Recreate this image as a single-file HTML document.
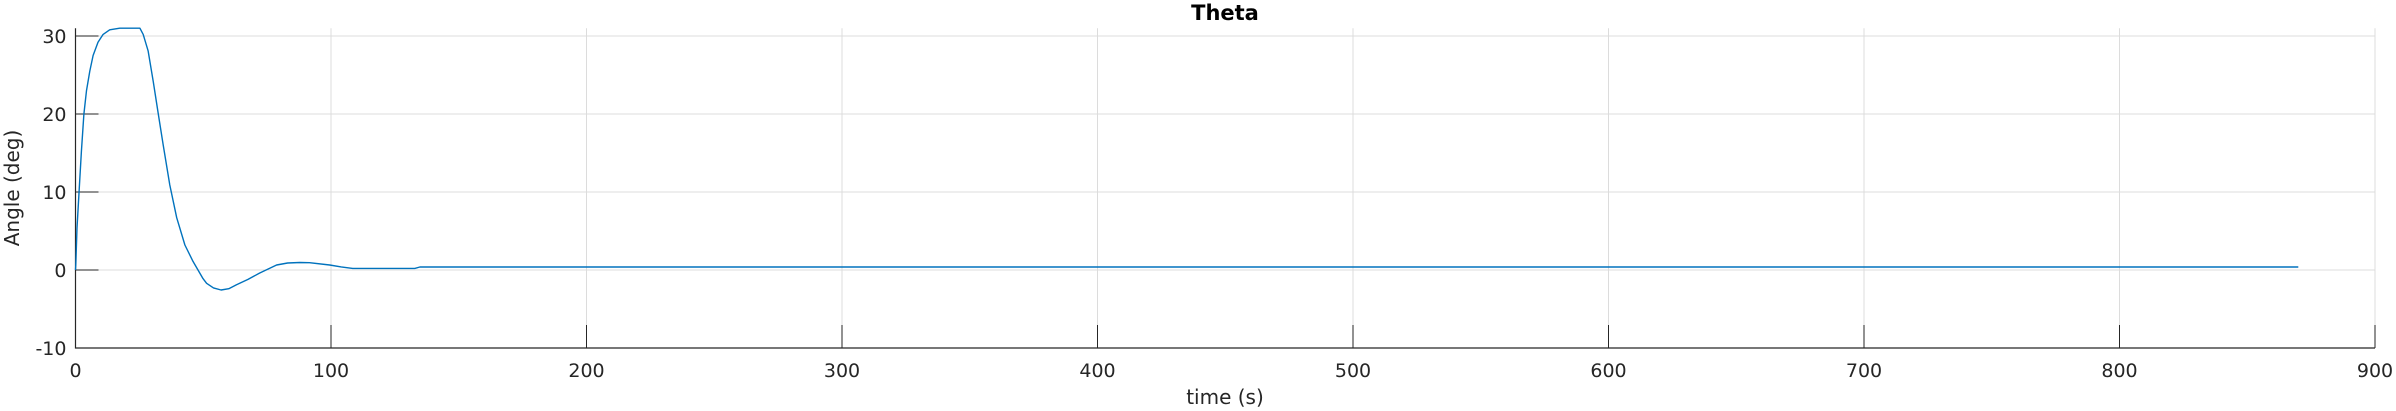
<!DOCTYPE html>
<html><head><meta charset="utf-8"><style>
html,body{margin:0;padding:0;background:#fff;width:2396px;height:411px;overflow:hidden}
svg text{font-family:"DejaVu Sans","Liberation Sans",sans-serif;fill:#262626}
</style></head><body>
<svg id="chart" width="2396" height="411" viewBox="0 0 2396 411" xmlns="http://www.w3.org/2000/svg">
<g id="grid"></g><g id="axes"></g><g id="series"></g>
<text x="1225" y="20" text-anchor="middle" font-size="21" font-weight="bold" style="fill:#000">Theta</text>
<text x="1225" y="404" text-anchor="middle" font-size="20">time (s)</text>
<text transform="translate(19,188) rotate(-90)" text-anchor="middle" font-size="20">Angle (deg)</text>
</svg>
<script>
const xTicks=[0,100,200,300,400,500,600,700,800,900];
const yTicks=[-10,0,10,20,30];
const times=[0,0.1,0.6,1.4,2.3,3.3,4.3,5.6,6.9,8.8,10.8,13.4,17.3,25.2,26.5,28.4,30.4,32.4,34.3,36.9,39.6,42.8,46,49.9,51.3,54,57,60,63,67.5,72,78.7,83,87.8,91.6,99.5,104,108.5,132.8,134.8,870];
const theta=[0,0.64,5.4,10.1,15.2,20,23,25.5,27.5,29.2,30.2,30.8,31,31,30.2,28.1,24.2,20,16.1,10.9,6.7,3.2,1.1,-1.1,-1.7,-2.3,-2.56,-2.4,-1.9,-1.2,-0.4,0.64,0.9,0.96,0.93,0.64,0.4,0.21,0.21,0.38,0.38];
const X0=75.5,X1=2375,Y0=348,Y1=28.2,XMIN=0,XMAX=900,YMIN=-10,YMAX=31;
const sx=v=>X0+(v-XMIN)/(XMAX-XMIN)*(X1-X0);
const sy=v=>Y0-(v-YMIN)/(YMAX-YMIN)*(Y0-Y1);
const NS='http://www.w3.org/2000/svg';
const mk=(t,a,p)=>{const e=document.createElementNS(NS,t);for(const k in a)e.setAttribute(k,a[k]);p.appendChild(e);return e;};
const grid=document.getElementById('grid'),axes=document.getElementById('axes'),ser=document.getElementById('series');
xTicks.forEach(v=>{
 if(v>0){const g=mk('line',{x1:sx(v),x2:sx(v),y1:Y1,y2:Y0,stroke:'#dcdcdc','stroke-width':1},grid);
 
 }
 const t=mk('line',{x1:sx(v),x2:sx(v),y1:Y0,y2:Y0-23,stroke:'#262626','stroke-width':1},axes);
 
 
 const l=mk('text',{x:sx(v),y:377,'text-anchor':'middle','font-size':19},axes);l.textContent=v;
 
 
});
yTicks.forEach(v=>{
 if(v>YMIN){const g=mk('line',{x1:X0,x2:X1,y1:sy(v),y2:sy(v),stroke:'#dcdcdc','stroke-width':1},grid);
 
 }
 const t=mk('line',{x1:X0,x2:X0+23,y1:sy(v),y2:sy(v),stroke:'#262626','stroke-width':1},axes);
 
 
 const l=mk('text',{x:X0-9,y:sy(v)+7,'text-anchor':'end','font-size':19},axes);l.textContent=v;
 
 
});
const ax=mk('path',{d:`M${X0},${Y1}V${Y0}H${X1}`,fill:'none',stroke:'#262626','stroke-width':1.2},axes);


const d=times.map((t,i)=>(i?'L':'M')+sx(t).toFixed(1)+','+sy(theta[i]).toFixed(1)).join('');
const p=mk('path',{d:d,fill:'none',stroke:'#0072bd','stroke-width':1.4,'stroke-linejoin':'round'},ser);


</script>
</body></html>
